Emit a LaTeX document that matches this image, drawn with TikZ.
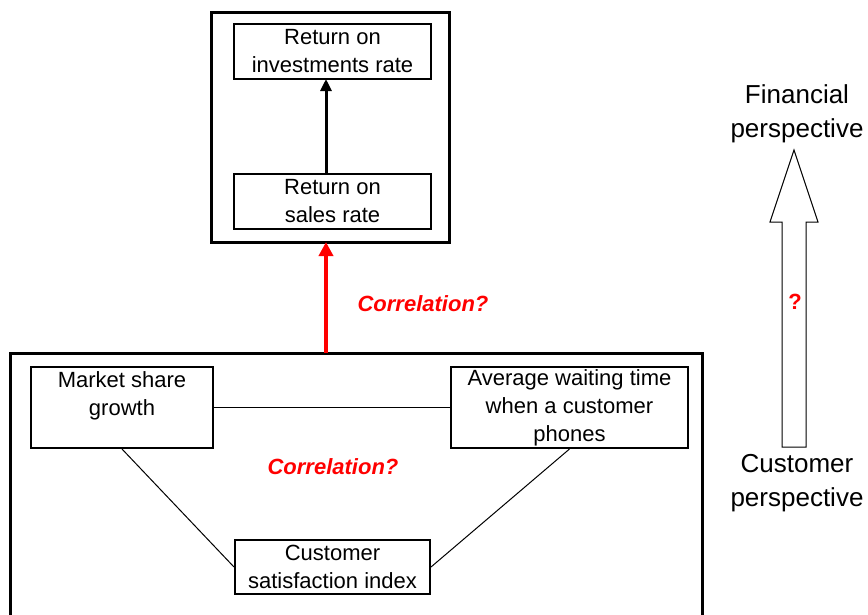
\documentclass[tikz,border=0pt]{standalone}
\usepackage{fontspec}
\setmainfont{Liberation Sans}
\usetikzlibrary{arrows.meta}
\begin{document}
\begin{tikzpicture}[x=1pt,y=-1pt,
  boxtext/.style={font=\fontsize{22}{28}\selectfont, align=center, inner sep=0pt},
  smallbox/.style={draw, line width=2pt, boxtext},
  bigbox/.style={draw, line width=3pt, inner sep=0pt},
  link/.style={line width=1pt},
  redlabel/.style={font=\fontsize{22}{27}\selectfont\bfseries\itshape, text=red, inner sep=0pt},
  persp/.style={font=\fontsize{26}{34}\selectfont, align=center, inner sep=0pt}]
\useasboundingbox (0,0) rectangle (868,614);
\clip (0,0) rectangle (868,614);
% top group
\node[bigbox, minimum width=238pt, minimum height=230pt] (finbox) at (330,127) {};
\node[smallbox, minimum width=197pt, minimum height=55pt] (roi) at (332.5,51.5) {Return on\\investments rate};
\node[smallbox, minimum width=197pt, minimum height=55pt] (ros) at (332.5,201.5) {Return on\\sales rate};
\draw[line width=3pt, -{Triangle[length=12pt,width=11pt]}] (326,174) -- (326,79);
% bottom group
\node[bigbox, minimum width=692pt, minimum height=300pt] (custbox) at (356,503) {};
\coordinate (redstart) at (326,353);
\coordinate (redend) at (326,242);
\draw[red, line width=4pt, -{Triangle[length=14pt,width=14pt]}] (redstart) -- (redend);
\node[redlabel, anchor=center] (corr1) at (423,304) {Correlation?};
\node[smallbox, minimum width=182pt, minimum height=81pt] (ms) at (122,407.5) {Market share\\growth\\\mbox{}};
\node[smallbox, minimum width=237pt, minimum height=81pt] (avg) at (569.5,407.5) {Average waiting time\\when a customer\\phones};
\node[smallbox, minimum width=195pt, minimum height=54pt] (csi) at (332.5,567) {Customer\\satisfaction index};
\node[redlabel] (corr2) at (333,467) {Correlation?};
\draw[link] (ms.east) -- (avg.west);
\draw[link] (ms.south) -- (csi.west);
\draw[link] (avg.south) -- (csi.east);
% right perspective arrow
\node[persp] (fin) at (797,114) {Financial\\perspective};
\node[persp] (cust) at (797,483) {Customer\\perspective};
\draw[line width=1pt, line join=miter] (782,447) -- (782,222) -- (770,222) -- (794,150) -- (818,222) -- (806,222) -- (806,447) -- cycle;
\node[font=\fontsize{22}{27}\selectfont\bfseries, text=red, inner sep=0pt] (q) at (795,302) {?};
\end{tikzpicture}
\end{document}
